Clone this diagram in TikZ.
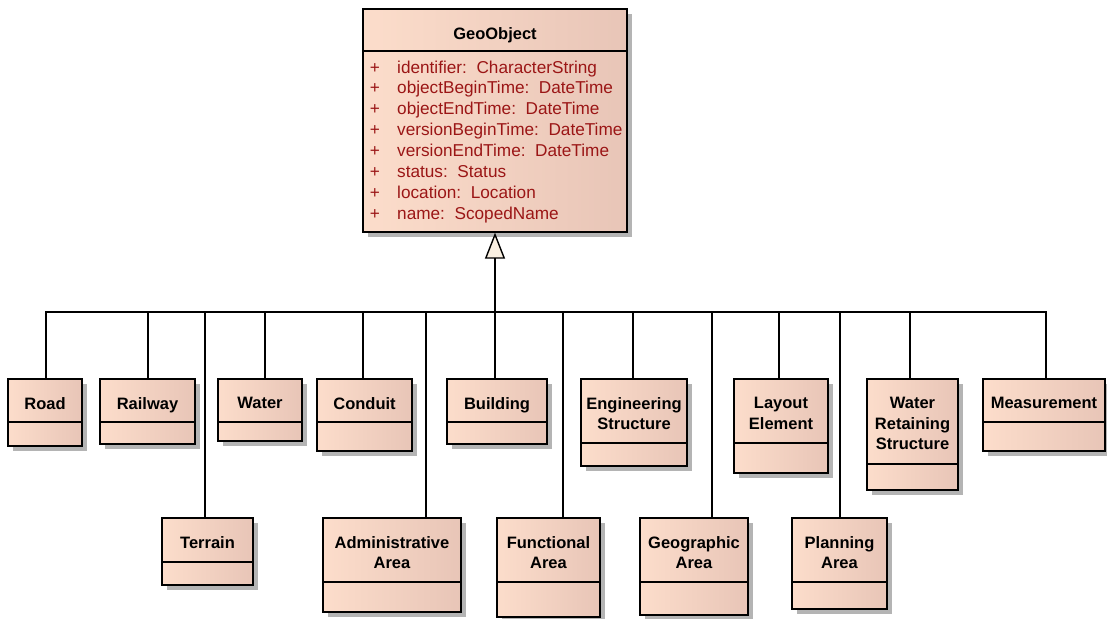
\documentclass[tikz,border=0pt]{standalone}
\usepackage{fontspec}
\setmainfont{Liberation Sans}
\usetikzlibrary{arrows.meta,positioning,calc}

\definecolor{boxleft}{RGB}{252,221,203}
\definecolor{boxright}{RGB}{232,197,183}
\definecolor{attrred}{RGB}{155,22,22}
\definecolor{shadowgray}{RGB}{180,180,180}
\definecolor{tipfill}{RGB}{250,240,226}

\tikzset{
  classbox/.style={draw, line width=1.3pt, left color=boxleft, right color=boxright, inner sep=0pt},
  classshadow/.style={fill=shadowgray},
  classname/.style={anchor=north, inner sep=0pt, align=center, font=\fontsize{16.5}{20.5}\selectfont\bfseries},
  attr/.style={anchor=base west, inner sep=0pt, text=attrred, font=\fontsize{17.2}{20}\selectfont},
  connector/.style={line width=1.3pt},
  generalization/.style={line width=1.4pt, -{Triangle[length=26pt,width=20pt,fill=tipfill]}}
}

% name, left, top, right, divider, bottom, title
\newcommand{\umlclass}[7]{%
  \fill[classshadow] (#2+5,#3+5) rectangle (#4+5,#6+5);
  \node[classbox, minimum width={(#4-#2)*1pt}, minimum height={(#6-#3)*1pt}] (#1) at ({(#2+#4)/2},{(#3+#6)/2}) {};
  \draw[line width=1.3pt] (#2,#5) -- (#4,#5);
  \node[classname] (#1-title) at ({(#2+#4)/2},#3+18) {#7};
}

\begin{document}
\begin{tikzpicture}[x=1pt,y=-1pt]
  \useasboundingbox (0,0) rectangle (1107,618);

  % the base class
  \umlclass{geo}{363}{9}{627}{51}{232}{GeoObject}
  \foreach \a [count=\i] in {identifier:\ \ CharacterString, objectBeginTime:\ \ DateTime,
      objectEndTime:\ \ DateTime, versionBeginTime:\ \ DateTime, versionEndTime:\ \ DateTime,
      status:\ \ Status, location:\ \ Location, name:\ \ ScopedName} {
    \node[attr, anchor=base] (plus\i) at (375,{73+20.86*(\i-1)}) {+};
    \node[attr] (attr\i) at (397,{73+20.86*(\i-1)}) {\a};
  }

  % first row
  \umlclass{road}{8}{379}{82}{422}{446}{Road}
  \umlclass{railway}{100}{379}{195}{422}{444}{Railway}
  \umlclass{water}{218}{379}{302}{422}{441}{Water}
  \umlclass{conduit}{317}{379}{412}{422}{451}{Conduit}
  \umlclass{building}{447}{379}{547}{422}{444}{Building}
  \umlclass{engineering}{581}{379}{687}{443}{466}{Engineering\\Structure}
  \umlclass{layout}{734}{379}{828}{443}{473}{Layout\\Element}
  \umlclass{retaining}{867}{379}{958}{464}{490}{Water\\Retaining\\Structure}
  \umlclass{measurement}{983}{379}{1105}{422}{451}{Measurement}

  % second row
  \umlclass{terrain}{162}{518}{253}{562}{585}{Terrain}
  \umlclass{admin}{323}{518}{461}{582}{612}{Administrative\\Area}
  \umlclass{functional}{497}{518}{600}{582}{617}{Functional\\Area}
  \umlclass{geographic}{640}{518}{748}{582}{615}{Geographic\\Area}
  \umlclass{planning}{792}{518}{887}{582}{609}{Planning\\Area}

  % inheritance tree
  \coordinate (bus) at (495,312);
  \draw[generalization] (bus) -- (geo.south);
  \foreach \n/\s in {road/1, railway/0.5, water/5, conduit/-1.5, building/-2, engineering/-1,
      layout/-2, retaining/-2.5, measurement/2, terrain/-2.5, admin/34, functional/14.5,
      geographic/18, planning/0.5} {
    \draw[connector] ([xshift=\s pt]\n.north) |- (bus);
  }
\end{tikzpicture}
\end{document}
